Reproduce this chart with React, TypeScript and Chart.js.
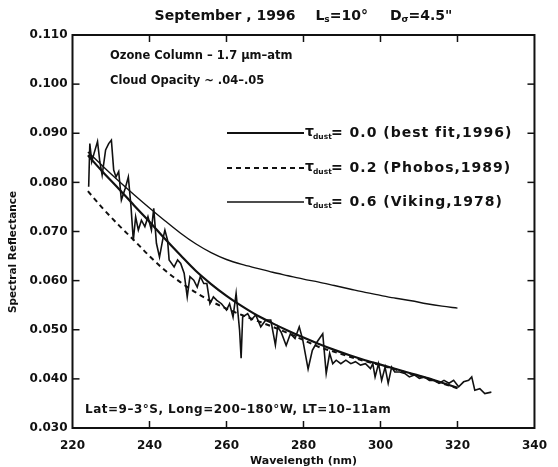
import React, { useEffect, useRef } from "react";
import { Chart, registerables } from "chart.js";

Chart.register(...registerables);

// ---------- data ----------
const obsWavelength = [
  224.2, 224.5, 225.0, 225.6, 226.5, 227.1, 227.7, 228.6, 229.4, 230.1,
  230.7, 231.3, 232.0, 232.7, 233.7, 234.5, 235.2, 235.8, 236.4, 237.1,
  237.9, 238.8, 239.6, 240.5, 241.1, 241.8, 242.6, 243.4, 244.0, 244.7,
  245.1, 246.4, 247.3, 248.1, 249.0, 249.8, 250.5, 251.5, 252.4, 253.2,
  254.1, 254.9, 255.7, 256.6, 257.5, 258.7, 260.0, 260.8, 261.7, 262.5,
  263.4, 263.8, 264.2, 265.5, 266.4, 267.6, 268.9, 270.2, 271.5, 272.7,
  273.3, 274.2, 275.5, 276.6, 277.8, 278.9, 279.8, 281.2, 282.3, 283.6,
  285.0, 285.9, 286.8, 287.6, 288.5, 289.7, 291.0, 292.3, 293.5, 294.8,
  296.1, 297.4, 298.0, 298.6, 299.5, 300.3, 301.2, 302.0, 302.9, 303.7,
  305.0, 306.3, 307.5, 308.8, 310.1, 311.4, 312.7, 313.9, 315.2, 316.5,
  317.8, 319.0, 320.3, 321.6, 322.9, 323.7, 324.5, 325.8, 327.1, 328.8,
];
const obsReflectance = [
  0.0791, 0.0879, 0.0842, 0.0859, 0.0883, 0.0842, 0.0815, 0.0866, 0.0879, 0.0886,
  0.0825, 0.0811, 0.0822, 0.0764, 0.0788, 0.0811, 0.0750, 0.0682, 0.0730, 0.0703,
  0.0723, 0.0710, 0.0730, 0.0703, 0.0747, 0.0676, 0.0648, 0.0682, 0.0703, 0.0682,
  0.0642, 0.0628, 0.0642, 0.0635, 0.0615, 0.0567, 0.0608, 0.0601, 0.0587, 0.0608,
  0.0594, 0.0594, 0.0553, 0.0567, 0.0560, 0.0553, 0.0540, 0.0553, 0.0526, 0.0574,
  0.0499, 0.0442, 0.0526, 0.0533, 0.0520, 0.0530, 0.0506, 0.0520, 0.0520, 0.0469,
  0.0506, 0.0495, 0.0468, 0.0492, 0.0482, 0.0506, 0.0480, 0.0420, 0.0458, 0.0476,
  0.0492, 0.0411, 0.0452, 0.0431, 0.0438, 0.0431, 0.0438, 0.0431, 0.0435, 0.0428,
  0.0431, 0.0421, 0.0431, 0.0404, 0.0431, 0.0397, 0.0424, 0.0391, 0.0424, 0.0414,
  0.0414, 0.0411, 0.0404, 0.0408, 0.0401, 0.0404, 0.0397, 0.0397, 0.0391, 0.0397,
  0.0391, 0.0397, 0.0384, 0.0394, 0.0397, 0.0404, 0.0377, 0.0380, 0.0370, 0.0373,
];

const modelWavelength = [
  224, 228, 232, 236, 240, 244, 248, 252, 256, 260, 264, 268, 272,
  276, 280, 284, 288, 292, 296, 300, 304, 308, 312, 316, 320,
];
const tau00BestFit = [
  0.0855, 0.0820, 0.0787, 0.0753, 0.0720, 0.0685, 0.0652, 0.0620, 0.0593, 0.0569,
  0.0548, 0.0529, 0.0513, 0.0498, 0.0484, 0.0471, 0.0459, 0.0448, 0.0438, 0.0429,
  0.0420, 0.0411, 0.0402, 0.0392, 0.0382,
];
const tau02Phobos = [
  0.0782, 0.0746, 0.0713, 0.0682, 0.0650, 0.0621, 0.0597, 0.0576, 0.0558, 0.0543,
  0.0530, 0.0518, 0.0506, 0.0493, 0.0479, 0.0465, 0.0455, 0.0445, 0.0436, 0.0428,
  0.0419, 0.0410, 0.0401, 0.0391, 0.0381,
];
const tau06Viking = [
  0.0862, 0.0832, 0.0803, 0.0775, 0.0748, 0.0722, 0.0697, 0.0675, 0.0657, 0.0643,
  0.0633, 0.0625, 0.0617, 0.0610, 0.0603, 0.0597, 0.0590, 0.0583, 0.0576, 0.0570,
  0.0564, 0.0559, 0.0553, 0.0548, 0.0544,
];

const xTicks = [220, 240, 260, 280, 300, 320, 340];
const yTicks = [0.03, 0.04, 0.05, 0.06, 0.07, 0.08, 0.09, 0.1, 0.11];
const legendValues = ["0.0", "0.2", "0.6"];
const legendNotes = ["(best fit,1996)", "(Phobos,1989)", "(Viking,1978)"];

const INK = "#111";
const FONT = "'DejaVu Sans', sans-serif";

function pts(xs: number[], ys: number[]) {
  return xs.map((x, i) => ({ x, y: ys[i] }));
}

const decorPlugin = {
  id: "decor",
  afterDraw(chart: any) {
    const { ctx, chartArea: a, scales } = chart;
    const xs = scales.x;
    const ys = scales.y;
    ctx.save();
    ctx.strokeStyle = INK;
    ctx.fillStyle = INK;

    // frame
    ctx.lineWidth = 2;
    ctx.strokeRect(a.left, a.top, a.right - a.left, a.bottom - a.top);

    // inward ticks on all four sides
    ctx.lineWidth = 1.5;
    const tl = 7;
    const seg = (x1: number, y1: number, x2: number, y2: number) => {
      ctx.beginPath();
      ctx.moveTo(x1, y1);
      ctx.lineTo(x2, y2);
      ctx.stroke();
    };
    xTicks.slice(1, -1).forEach((v) => {
      const px = xs.getPixelForValue(v);
      seg(px, a.bottom, px, a.bottom - tl);
      seg(px, a.top, px, a.top + tl);
    });
    yTicks.slice(1, -1).forEach((v) => {
      const py = ys.getPixelForValue(v);
      seg(a.left, py, a.left + tl, py);
      seg(a.right, py, a.right - tl, py);
    });

    // title with subscripts
    const tFont = `bold 14px ${FONT}`;
    const sFont = `bold 9px ${FONT}`;
    const parts: [string, string, number][] = [
      ["September , 1996", tFont, 0],
      ["L", tFont, 20],
      ["s", sFont, 0],
      ["=10°", tFont, 0],
      ["D", tFont, 22],
      ["σ", sFont, 0],
      ["=4.5\"", tFont, 0],
    ];
    let total = 0;
    parts.forEach(([t, f, g]) => {
      ctx.font = f;
      total += g + ctx.measureText(t).width;
    });
    let tx = (a.left + a.right) / 2 - total / 2;
    ctx.textBaseline = "middle";
    ctx.textAlign = "left";
    parts.forEach(([t, f, g]) => {
      ctx.font = f;
      tx += g;
      ctx.fillText(t, tx, f === sFont ? 20 : 16);
      tx += ctx.measureText(t).width;
    });

    // annotations
    ctx.font = `bold 11.5px ${FONT}`;
    ctx.fillText("Ozone Column – 1.7 μm–atm", 110, 56);
    ctx.fillText("Cloud Opacity ~ .04–.05", 110, 81);
    ctx.save();
    ctx.font = `bold 12px ${FONT}`;
    (ctx as any).letterSpacing = "0.5px";
    ctx.fillText("Lat=9–3°S, Long=200–180°W, LT=10–11am", 85, 410);
    ctx.restore();

    // axis titles
    ctx.font = `bold 11px ${FONT}`;
    ctx.textAlign = "center";
    ctx.fillText("Wavelength (nm)", (a.left + a.right) / 2, 461);
    ctx.save();
    ctx.translate(13, 252);
    ctx.rotate(-Math.PI / 2);
    ctx.font = `bold 10.5px ${FONT}`;
    ctx.fillText("Spectral Reflectance", 0, 0);
    ctx.restore();

    // legend
    const order = [1, 2, 3];
    const rowY = [133, 168, 202];
    ctx.textAlign = "left";
    order.forEach((di, i) => {
      const ds = chart.data.datasets[di];
      const y = rowY[i];
      ctx.save();
      ctx.lineWidth = ds.borderWidth;
      ctx.setLineDash(ds.borderDash || []);
      seg(227, y, 304, y);
      ctx.restore();
      ctx.font = `bold 14px ${FONT}`;
      ctx.fillText("τ", 305, y - 1);
      ctx.font = `bold 7.5px ${FONT}`;
      ctx.fillText("dust", 313, y + 4);
      ctx.save();
      ctx.font = `bold 14px ${FONT}`;
      (ctx as any).letterSpacing = "1px";
      ctx.fillText(`= ${legendValues[i]} ${legendNotes[i]}`, 331, y);
      ctx.restore();
    });

    ctx.restore();
  },
};

export default function App() {
  const ref = useRef<HTMLCanvasElement | null>(null);

  useEffect(() => {
    if (!ref.current) return;
    const chart = new Chart(ref.current, {
      type: "line",
      data: {
        datasets: [
          {
            label: "Observed",
            data: pts(obsWavelength, obsReflectance),
            borderColor: INK,
            borderWidth: 1.6,
            pointRadius: 0,
            tension: 0,
          },
          {
            label: "τdust = 0.0 (best fit,1996)",
            data: pts(modelWavelength, tau00BestFit),
            borderColor: INK,
            borderWidth: 2.2,
            pointRadius: 0,
            cubicInterpolationMode: "monotone",
          },
          {
            label: "τdust = 0.2 (Phobos,1989)",
            data: pts(modelWavelength, tau02Phobos),
            borderColor: INK,
            borderWidth: 2,
            borderDash: [5, 4],
            pointRadius: 0,
            cubicInterpolationMode: "monotone",
          },
          {
            label: "τdust = 0.6 (Viking,1978)",
            data: pts(modelWavelength, tau06Viking),
            borderColor: INK,
            borderWidth: 1.4,
            pointRadius: 0,
            cubicInterpolationMode: "monotone",
          },
        ],
      } as any,
      options: {
        animation: false,
        responsive: false,
        maintainAspectRatio: false,
        layout: { padding: { left: 0, top: 35, right: 13, bottom: 0 } },
        plugins: {
          legend: { display: false },
          tooltip: { enabled: false },
          title: { display: false },
        },
        scales: {
          x: {
            type: "linear",
            min: 220,
            max: 340,
            afterBuildTicks: (s: any) => {
              s.ticks = xTicks.map((v) => ({ value: v }));
            },
            afterFit: (s: any) => {
              s.height = 39;
            },
            grid: { display: false, drawTicks: false },
            border: { display: false },
            ticks: {
              autoSkip: false,
              maxRotation: 0,
              padding: 11,
              color: INK,
              font: { family: FONT, size: 12, weight: "bold" },
              callback: (v: any) => String(v),
            },
          },
          y: {
            type: "linear",
            min: 0.03,
            max: 0.11,
            afterBuildTicks: (s: any) => {
              s.ticks = yTicks.map((v) => ({ value: v }));
            },
            afterFit: (s: any) => {
              s.width = 72.5;
            },
            grid: { display: false, drawTicks: false },
            border: { display: false },
            ticks: {
              autoSkip: false,
              padding: 5,
              color: INK,
              font: { family: FONT, size: 12, weight: "bold" },
              callback: (v: any) => Number(v).toFixed(3),
            },
          },
        },
      } as any,
      plugins: [decorPlugin],
    });
    return () => chart.destroy();
  }, []);

  return (
    <div style={{ position: "absolute", left: 0, top: 0, width: 558, height: 467, background: "#fff" }}>
      <canvas ref={ref} width={558} height={467} style={{ display: "block" }} />
    </div>
  );
}
